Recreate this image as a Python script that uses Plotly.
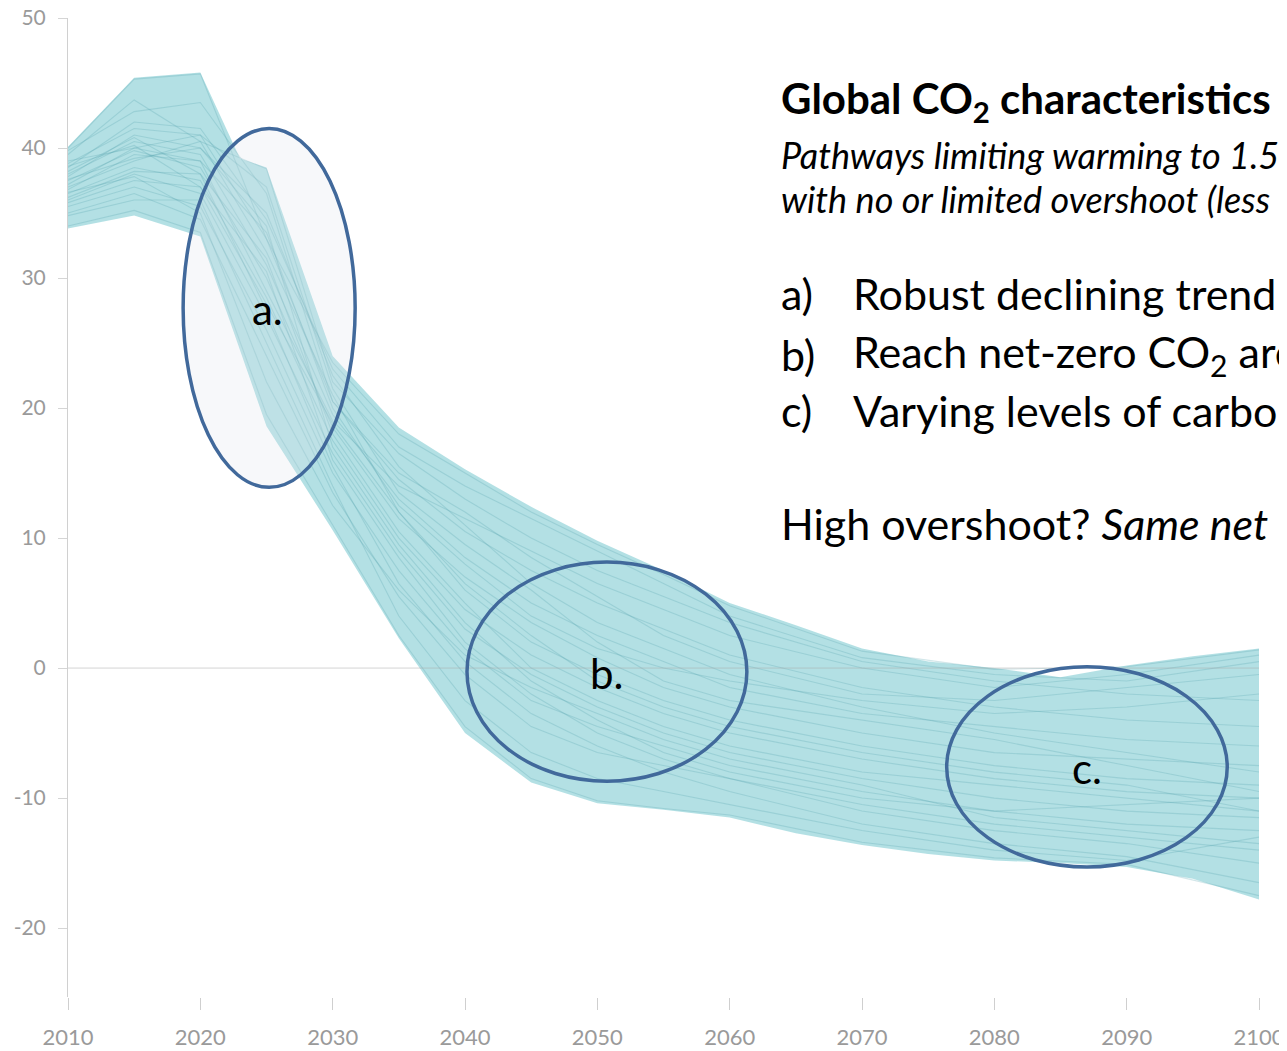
import plotly.graph_objects as go

# ---------------- data ----------------
years = [2010, 2015, 2020, 2025, 2030, 2035, 2040, 2045, 2050, 2055, 2060, 2070, 2080, 2090, 2100]

env_years = [2010, 2015, 2020, 2023, 2025, 2030, 2035, 2040, 2045, 2050, 2055, 2060,
             2065, 2070, 2075, 2080, 2085, 2090, 2095, 2100]
env_upper = [40.1, 45.4, 45.8, 39.2, 38.5, 24.0, 18.5, 15.3, 12.4, 9.8, 7.5, 5.0,
             3.3, 1.5, 0.5, 0.0, -0.7, 0.2, 0.9, 1.5]
env_lower = [33.8, 34.8, 33.2, 24.5, 18.6, 10.6, 2.3, -5.0, -8.8, -10.4, -10.9, -11.5,
             -12.7, -13.6, -14.3, -14.8, -15.0, -15.3, -16.2, -17.8]

path_01 = [40.0, 45.3, 45.7, 33.0, 23.5, 18.0, 15.0, 12.0, 9.5, 7.2, 4.8, 1.3, -0.1, 0.1, 1.4]
path_02 = [39.5, 43.7, 40.5, 38.4, 22.0, 16.5, 13.0, 10.0, 7.5, 5.5, 3.5, 0.5, -1.0, -2.0, -2.5]
path_03 = [38.8, 41.5, 41.0, 33.0, 20.5, 14.5, 10.5, 7.5, 5.0, 3.0, 1.0, -1.5, -3.0, -4.0, -4.5]
path_04 = [38.0, 40.5, 39.5, 31.0, 19.5, 13.0, 8.5, 5.0, 2.5, 0.5, -1.5, -3.5, -4.5, -5.5, -6.0]
path_05 = [37.5, 39.8, 38.5, 30.0, 18.5, 11.5, 7.0, 3.5, 0.8, -1.5, -3.0, -5.0, -6.5, -7.0, -7.5]
path_06 = [37.0, 39.0, 40.5, 32.0, 21.0, 12.0, 6.0, 2.0, -0.5, -2.5, -4.0, -6.0, -7.5, -8.5, -9.0]
path_07 = [36.5, 38.5, 37.5, 28.5, 17.5, 10.0, 4.5, 1.0, -1.5, -3.5, -5.0, -7.0, -8.5, -9.5, -10.0]
path_08 = [36.0, 38.0, 36.5, 27.0, 16.5, 9.0, 3.0, -0.5, -3.0, -5.0, -6.5, -8.5, -10.0, -11.0, -11.5]
path_09 = [35.5, 37.0, 35.5, 26.0, 15.0, 7.5, 1.5, -2.5, -4.5, -6.0, -7.5, -9.5, -11.0, -12.0, -12.5]
path_10 = [35.0, 36.5, 34.5, 24.0, 13.5, 5.5, -0.5, -4.5, -6.5, -7.5, -8.5, -10.5, -12.0, -13.0, -14.0]
path_11 = [34.0, 35.2, 33.5, 19.5, 11.0, 2.5, -4.5, -8.5, -10.2, -10.8, -11.3, -13.4, -14.6, -15.1, -17.5]
path_12 = [38.5, 42.0, 41.5, 34.5, 23.0, 17.0, 14.0, 11.5, 9.0, 6.5, 4.0, 0.8, -0.5, -1.0, 0.5]
path_13 = [39.0, 40.0, 39.0, 29.0, 19.0, 14.0, 11.5, 9.0, 6.5, 4.5, 2.5, 0.0, -1.5, -0.5, 1.0]
path_14 = [36.8, 39.5, 39.0, 33.5, 20.0, 12.5, 8.0, 4.0, 1.5, 0.0, -1.0, -2.5, -3.5, -3.0, -2.0]
path_15 = [37.8, 41.0, 40.0, 35.0, 22.5, 15.5, 11.0, 6.5, 3.5, 1.5, -0.5, -3.0, -5.0, -6.5, -8.0]
path_16 = [35.8, 37.5, 37.0, 30.5, 16.0, 8.5, 2.0, -2.0, -5.0, -7.0, -8.5, -11.0, -12.5, -13.5, -15.0]
path_17 = [36.2, 38.2, 38.0, 31.5, 18.0, 10.5, 5.0, 0.0, -2.5, -4.5, -6.0, -8.0, -9.0, -10.0, -11.0]
path_18 = [37.2, 40.0, 41.0, 37.0, 21.5, 13.5, 9.5, 6.0, 2.0, -1.0, -2.5, -4.0, -5.5, -7.5, -9.5]
path_19 = [38.2, 40.8, 38.0, 27.5, 15.5, 6.5, 0.5, -3.5, -6.0, -8.0, -9.5, -12.0, -13.5, -14.5, -16.5]
path_20 = [34.8, 36.0, 36.0, 25.0, 14.0, 4.0, -2.5, -6.5, -8.5, -9.5, -10.5, -12.5, -14.0, -14.8, -13.0]
path_21 = [39.8, 42.8, 43.5, 36.5, 20.5, 15.0, 12.0, 8.5, 5.5, 2.5, 0.5, -2.0, -2.5, -1.5, -0.5]
path_22 = [36.6, 37.8, 35.0, 22.0, 12.5, 6.0, 1.0, -1.5, -3.5, -5.5, -7.0, -9.0, -11.5, -12.5, -13.5]
path_23 = [37.6, 39.2, 40.0, 34.0, 17.0, 9.5, 3.5, -1.0, -4.0, -6.5, -8.0, -10.0, -11.0, -10.5, -10.0]
path_24 = [38.6, 40.2, 37.0, 28.0, 18.8, 12.0, 6.5, 2.5, -1.0, -3.0, -4.5, -6.5, -8.0, -9.0, -11.0]

x_ticks = [2010, 2020, 2030, 2040, 2050, 2060, 2070, 2080, 2090, 2100]
y_ticks = [-20, -10, 0, 10, 20, 30, 40, 50]
y_tick_text = ["-20", "-10", "0", "10", "20", "30", "40", "50"]

paths = [path_01, path_02, path_03, path_04, path_05, path_06, path_07, path_08,
         path_09, path_10, path_11, path_12, path_13, path_14, path_15, path_16,
         path_17, path_18, path_19, path_20, path_21, path_22, path_23, path_24]

# ---------------- figure ----------------
fig = go.Figure()

fig.add_trace(go.Scatter(x=env_years, y=env_upper, mode="lines",
                         line=dict(width=0, color="rgba(0,0,0,0)"),
                         hoverinfo="skip", showlegend=False))
fig.add_trace(go.Scatter(x=env_years, y=env_lower, mode="lines", fill="tonexty",
                         fillcolor="rgba(150,212,218,0.72)",
                         line=dict(width=0, color="rgba(0,0,0,0)"),
                         hoverinfo="skip", showlegend=False))

for p in paths:
    fig.add_trace(go.Scatter(x=years, y=p, mode="lines",
                             line=dict(width=1.1, color="rgba(80,160,172,0.25)"),
                             hoverinfo="skip", showlegend=False))

FONT = "Lato, 'Open Sans', sans-serif"

# the page body adds an 8 px offset, so the figure is 8 px smaller and margins compensate
fig.update_layout(
    width=1279, height=1043,
    margin=dict(l=60, r=28, t=10, b=54, autoexpand=False),
    paper_bgcolor="white", plot_bgcolor="white",
    showlegend=False,
    font=dict(family=FONT, color="#000000"),
    xaxis=dict(range=[2010, 2100], tickvals=x_ticks, ticks="outside", ticklen=12,
               tickcolor="#cfcfcf", tickwidth=1, showline=False, showgrid=False,
               zeroline=False, automargin=False, ticklabeloverflow="allow",
               tickfont=dict(size=22, color="#9a9a9a", family=FONT),
               ticklabelstandoff=9),
    yaxis=dict(range=[-25.3, 50], tickvals=y_ticks, ticktext=y_tick_text,
               ticks="outside", ticklen=9, ticklabeloverflow="allow",
               tickcolor="#d5d5d5", tickwidth=1, showline=True, linecolor="#d0d0d0",
               linewidth=1, showgrid=False, zeroline=False, automargin=False,
               tickfont=dict(size=21, color="#9a9a9a", family=FONT),
               ticklabelstandoff=8),
)

# zero line drawn above the band
fig.add_shape(type="line", xref="x", yref="y", x0=2010, x1=2100, y0=0, y1=0,
              line=dict(color="rgba(170,170,170,0.5)", width=1), layer="above")

ELL = "#41699b"
fig.add_shape(type="circle", xref="x", yref="y", x0=2018.7, x1=2031.7, y0=13.9, y1=41.5,
              line=dict(color=ELL, width=3.5), fillcolor="rgba(222,226,234,0.25)", layer="above")
fig.add_shape(type="circle", xref="x", yref="y", x0=2040.15, x1=2061.3, y0=-8.7, y1=8.15,
              line=dict(color=ELL, width=3.5), layer="above")
fig.add_shape(type="circle", xref="x", yref="y", x0=2076.4, x1=2097.6, y0=-15.3, y1=0.1,
              line=dict(color=ELL, width=3.5), layer="above")

def label(x, y, text, size=42, **kw):
    fig.add_annotation(x=x, y=y, xref="x", yref="y", text=text, showarrow=False,
                       font=dict(size=size, color="#000000", family=FONT), **kw)

label(2025.1, 27.6, "a.")
label(2050.7, -0.4, "b.")
label(2087.0, -7.7, "c.")

TX = 2010 + (779 - 68) / 13.233
label(TX, 43.6, "<b>Global CO<sub>2</sub> characteristics</b>", size=42, xanchor="left")
label(TX, 39.5, "<i>Pathways limiting warming to 1.5</i>", size=36, xanchor="left")
label(TX, 36.1, "<i>with no or limited overshoot (less</i>", size=36, xanchor="left")
label(TX, 28.8, "a)", size=43, xanchor="left")
label(TX, 24.1, "b)", size=43, xanchor="left")
label(TX, 19.8, "c)", size=43, xanchor="left")
TX2 = 2010 + (851 - 68) / 13.233
label(TX2, 28.8, "Robust declining trend", size=43, xanchor="left")
label(TX2, 24.1, "Reach net-zero CO<sub>2</sub> aro", size=43, xanchor="left")
label(TX2, 19.8, "Varying levels of carbo", size=43, xanchor="left")
label(TX, 11.1, "High overshoot? <i>Same net</i>", size=43, xanchor="left")

fig.write_html("out.html")
